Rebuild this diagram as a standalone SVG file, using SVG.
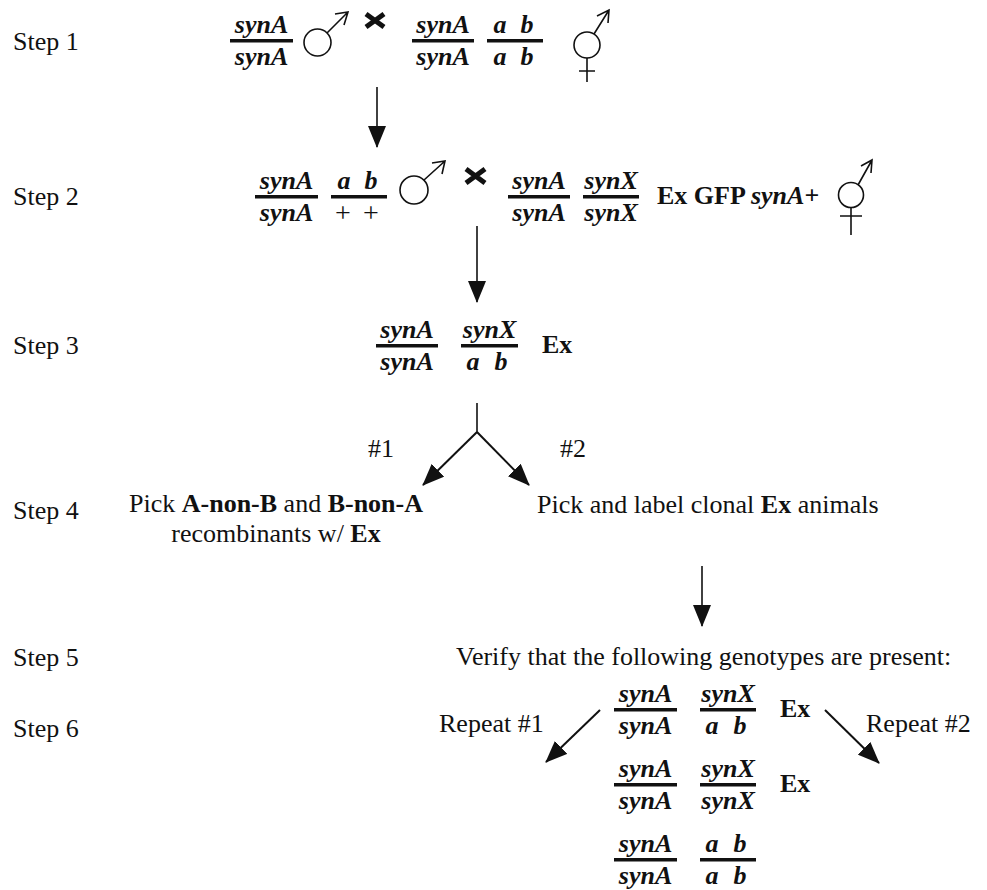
<svg xmlns="http://www.w3.org/2000/svg" width="987" height="890" viewBox="0 0 987 890">
<style>
text{font-family:"Liberation Serif","Times New Roman",Times,serif;font-size:26px;fill:#111}
.g{font-weight:bold;font-style:italic;text-anchor:middle}
.p{font-weight:normal;font-style:normal;text-anchor:middle;font-size:28px}
.b{font-weight:bold}
.bar{fill:#111}
.sym{fill:none;stroke:#111;stroke-width:1.6}
.cross{stroke:#111;stroke-width:5;stroke-linecap:butt}
.ln{fill:none;stroke:#111;stroke-width:1.6}
.ld{fill:none;stroke:#111;stroke-width:2}
</style>
<defs>
<marker id="ah" viewBox="0 0 22 18" refX="21" refY="9" markerWidth="22" markerHeight="18" markerUnits="userSpaceOnUse" orient="auto">
<path d="M0,0 L22,9 L0,18 z" fill="#111"/>
</marker>
</defs>

<g id="step-labels">
<text x="13" y="50">Step 1</text>
<text x="13" y="205">Step 2</text>
<text x="13" y="354">Step 3</text>
<text x="13" y="519">Step 4</text>
<text x="13" y="666">Step 5</text>
<text x="13" y="737">Step 6</text>
</g>

<g id="row1">
<g id="r1-f1"><rect class="bar" x="230" y="39" width="63" height="3.5"/><text class="g" x="261.5" y="33">synA</text><text class="g" x="261.5" y="65">synA</text></g>
<g id="r1-male"><circle class="sym" cx="317.5" cy="42.5" r="13.5"/><path class="sym" d="M327,33 L348,12 M335,14 L348,12 L344,25"/></g>
<g id="r1-x"><path class="cross" d="M366,14 L384,27 M384,14 L366,27"/></g>
<g id="r1-f2"><rect class="bar" x="412" y="39" width="62" height="3.5"/><text class="g" x="443" y="33">synA</text><text class="g" x="443" y="65">synA</text></g>
<g id="r1-f3"><rect class="bar" x="487" y="39" width="56" height="3.5"/><text class="g" x="500" y="33">a</text><text class="g" x="527" y="33">b</text><text class="g" x="500" y="65">a</text><text class="g" x="527" y="65">b</text></g>
<g id="r1-herm"><circle class="sym" cx="587" cy="45" r="13"/><path class="sym" d="M594,34 L609,10 M597,16 L609,10 L608,23 M587,58 L587,82 M579,71 L595,71"/></g>
</g>

<g id="row2">
<g id="r2-f1"><rect class="bar" x="255" y="195" width="63" height="3.5"/><text class="g" x="286.5" y="189">synA</text><text class="g" x="286.5" y="221">synA</text></g>
<g id="r2-f2"><rect class="bar" x="331" y="195" width="56" height="3.5"/><text class="g" x="344" y="189">a</text><text class="g" x="371" y="189">b</text><text class="p" x="343" y="222">+</text><text class="p" x="371" y="222">+</text></g>
<g id="r2-male"><circle class="sym" cx="414" cy="190" r="14"/><path class="sym" d="M424,180 L445,161 M432,163 L445,161 L442,174"/></g>
<g id="r2-x"><path class="cross" d="M466,169 L485,183 M485,169 L466,183"/></g>
<g id="r2-f3"><rect class="bar" x="508" y="195" width="62" height="3.5"/><text class="g" x="539" y="189">synA</text><text class="g" x="539" y="221">synA</text></g>
<g id="r2-f4"><rect class="bar" x="583" y="195" width="56" height="3.5"/><text class="g" x="611" y="189">synX</text><text class="g" x="611" y="221">synX</text></g>
<g id="r2-ex"><text class="b" x="657" y="204">Ex GFP <tspan font-style="italic">synA</tspan>+</text></g>
<g id="r2-herm"><circle class="sym" cx="851" cy="195" r="12.5"/><path class="sym" d="M858,185 L872,160 M861,166 L872,160 L871,173 M851,207.5 L851,235 M840,216 L862,216"/></g>
</g>

<g id="row3">
<g id="r3-f1"><rect class="bar" x="376" y="344" width="62" height="3.5"/><text class="g" x="407" y="338">synA</text><text class="g" x="407" y="370">synA</text></g>
<g id="r3-f2"><rect class="bar" x="461" y="344" width="57" height="3.5"/><text class="g" x="489.5" y="338">synX</text><text class="g" x="473" y="370">a</text><text class="g" x="501" y="370">b</text></g>
<g id="r3-ex"><text class="b" x="542" y="353">Ex</text></g>
</g>

<g id="step4">
<text x="129" y="512">Pick <tspan class="b">A-non-B</tspan> and <tspan class="b">B-non-A</tspan></text>
<text x="276" y="542" text-anchor="middle">recombinants w/ <tspan class="b">Ex</tspan></text>
<text x="537" y="513">Pick and label clonal <tspan class="b">Ex</tspan> animals</text>
<text x="368" y="457">#1</text>
<text x="560" y="457">#2</text>
</g>

<g id="step5">
<text x="456" y="665">Verify that the following genotypes are present:</text>
</g>

<g id="step6">
<text x="439" y="732">Repeat #1</text>
<text x="866" y="732">Repeat #2</text>
<g id="r6-f1"><rect class="bar" x="614" y="708" width="63" height="3.5"/><text class="g" x="645.5" y="702">synA</text><text class="g" x="645.5" y="734">synA</text></g>
<g id="r6-f2"><rect class="bar" x="700" y="708" width="56" height="3.5"/><text class="g" x="728" y="702">synX</text><text class="g" x="712" y="734">a</text><text class="g" x="740" y="734">b</text></g>
<text class="b" x="780" y="717">Ex</text>
<g id="r7-f1"><rect class="bar" x="614" y="783" width="63" height="3.5"/><text class="g" x="645.5" y="777">synA</text><text class="g" x="645.5" y="809">synA</text></g>
<g id="r7-f2"><rect class="bar" x="700" y="783" width="56" height="3.5"/><text class="g" x="728" y="777">synX</text><text class="g" x="728" y="809">synX</text></g>
<text class="b" x="780" y="792">Ex</text>
<g id="r8-f1"><rect class="bar" x="614" y="858" width="63" height="3.5"/><text class="g" x="645.5" y="852">synA</text><text class="g" x="645.5" y="884">synA</text></g>
<g id="r8-f2"><rect class="bar" x="700" y="858" width="56" height="3.5"/><text class="g" x="712" y="852">a</text><text class="g" x="740" y="852">b</text><text class="g" x="712" y="884">a</text><text class="g" x="740" y="884">b</text></g>
</g>

<g id="connectors">
<line class="ln" x1="377" y1="87" x2="377" y2="147" marker-end="url(#ah)"/>
<line class="ln" x1="477" y1="226" x2="477" y2="302" marker-end="url(#ah)"/>
<line class="ln" x1="477" y1="403" x2="477" y2="432"/>
<line class="ld" x1="477" y1="432" x2="423" y2="485" marker-end="url(#ah)"/>
<line class="ld" x1="477" y1="432" x2="529" y2="485" marker-end="url(#ah)"/>
<line class="ln" x1="702" y1="566" x2="702" y2="626" marker-end="url(#ah)"/>
<line class="ld" x1="600" y1="710" x2="546" y2="762" marker-end="url(#ah)"/>
<line class="ld" x1="825" y1="710" x2="879" y2="763" marker-end="url(#ah)"/>
</g>
</svg>
